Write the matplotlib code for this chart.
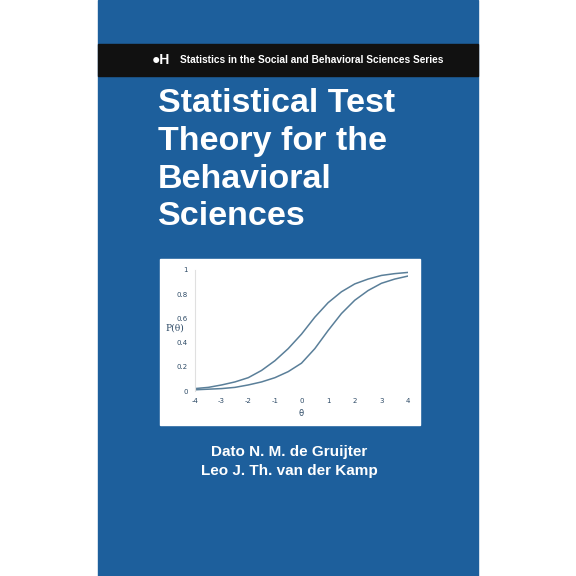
import matplotlib
matplotlib.use("Agg")
import matplotlib.pyplot as plt
from matplotlib.patches import Rectangle
import numpy as np

theta = [-4, -3.5, -3, -2.5, -2, -1.5, -1, -0.5, 0, 0.5, 1, 1.5, 2, 2.5, 3, 3.5, 4]
p_upper = [0.02, 0.03, 0.05, 0.075, 0.11, 0.17, 0.25, 0.35, 0.47, 0.61, 0.73, 0.82, 0.885, 0.925, 0.955, 0.97, 0.98]
p_lower = [0.01, 0.015, 0.02, 0.03, 0.05, 0.075, 0.11, 0.16, 0.23, 0.35, 0.50, 0.64, 0.75, 0.83, 0.89, 0.925, 0.95]
xticks = [-4, -3, -2, -1, 0, 1, 2, 3, 4]
xtick_labels = ["-4", "-3", "-2", "-1", "0", "1", "2", "3", "4"]
yticks = [0, 0.2, 0.4, 0.6, 0.8, 1]
ytick_labels = ["0", "0.2", "0.4", "0.6", "0.8", "1"]

W = H = 576
fig = plt.figure(figsize=(5.76, 5.76), dpi=100)
fig.patch.set_facecolor("white")
bg = fig.add_axes([0, 0, 1, 1])
bg.set_xlim(0, W); bg.set_ylim(H, 0); bg.axis("off")

blue = "#1d5f9c"
bg.add_patch(Rectangle((98, 0), 380, 576, color=blue))
bg.add_patch(Rectangle((98, 44), 380, 32, color="#111111"))
bg.text(152, 60, "●H", color="white", fontsize=10, fontweight="bold", va="center", ha="left", family="Liberation Sans")
bg.text(180, 60, "Statistics in the Social and Behavioral Sciences Series", color="white",
        fontsize=7.3, fontweight="bold", va="center", ha="left", family="Liberation Sans")
for i, line in enumerate(["Statistical Test", "Theory for the", "Behavioral", "Sciences"]):
    bg.text(158, 104 + i * 37.5, line, color="white", fontsize=24.5, fontweight="bold",
            va="center", ha="left", family="Liberation Sans")
bg.add_patch(Rectangle((160, 259), 260, 166, color="white"))
bg.text(289, 452, "Dato N. M. de Gruijter", color="white", fontsize=11, fontweight="bold",
        ha="center", va="center", family="Liberation Sans")
bg.text(289, 471, "Leo J. Th. van der Kamp", color="white", fontsize=11, fontweight="bold",
        ha="center", va="center", family="Liberation Sans")

ax = fig.add_axes([195 / W, 1 - 391 / H, (408 - 195) / W, (391 - 270) / H])
ax.set_xlim(-4, 4); ax.set_ylim(0, 1)
lc = "#5a7f99"
ax.plot(theta, p_upper, color=lc, lw=1.1)
ax.plot(theta, p_lower, color=lc, lw=1.1)
for s in ["top", "right", "bottom"]:
    ax.spines[s].set_visible(False)
ax.spines["left"].set_color("#e0e0e0")
ax.set_xticks(xticks); ax.set_xticklabels(xtick_labels)
ax.set_yticks(yticks); ax.set_yticklabels(ytick_labels)
ax.tick_params(length=0, labelsize=5, colors="#2d4a66", pad=5)
ax.set_xlabel("θ", fontsize=6, color="#2d4a66", labelpad=4)
ax.text(-4.75, 0.52, "P(θ)", fontsize=6.5, color="#2d4a66", ha="center", va="center", family="DejaVu Serif")
ax.patch.set_alpha(0)
fig.savefig("out.png", dpi=100)
